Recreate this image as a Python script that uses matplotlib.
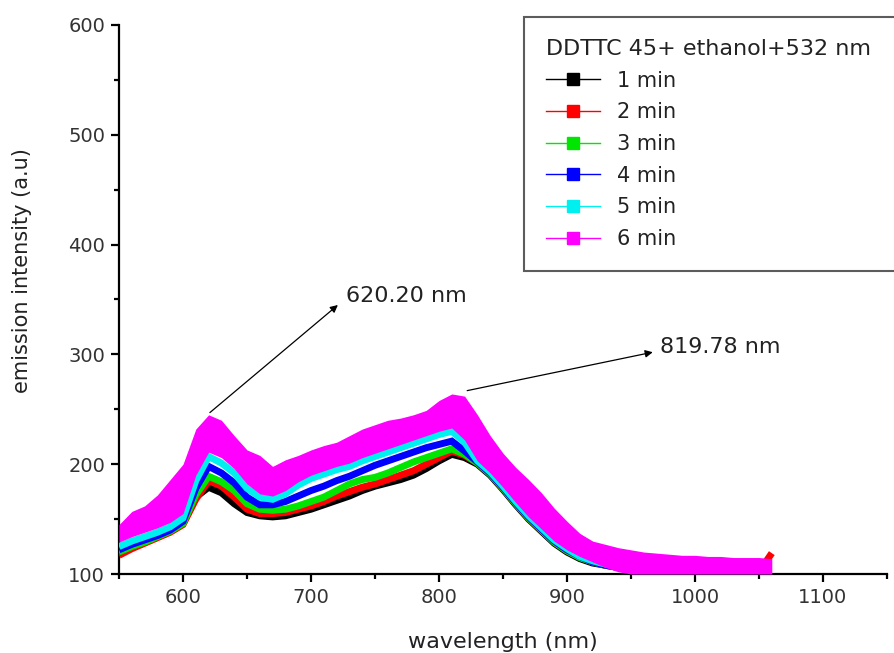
import numpy as np
import matplotlib
matplotlib.use('Agg')
import matplotlib.pyplot as plt
from matplotlib.ticker import MultipleLocator
from matplotlib.lines import Line2D

# wavelength grid (nm), one reading every 10 nm
wl = np.arange(550, 1061, 10)

# emission intensity (a.u), 1 to 6 min
i_1min = [119, 125, 131, 137, 142, 150, 170, 179, 174, 164, 156, 153,
          152, 153, 156, 159, 163, 167, 171, 176, 180, 183, 186, 190,
          196, 203, 209, 206, 200, 190, 177, 163, 150, 139, 128, 120,
          114, 110, 108, 106, 105, 104, 103, 102, 102, 102, 102, 102,
          102, 102, 102, 102]
i_2min = [117, 123, 128, 133, 138, 145, 168, 185, 180, 170, 159, 155,
          155, 156, 159, 162, 166, 171, 175, 179, 182, 186, 190, 194,
          200, 206, 212, 208, 201, 191, 178, 164, 151, 140, 129, 121,
          115, 111, 108, 106, 105, 104, 103, 102, 102, 102, 102, 102,
          102, 102, 102, 119]
i_3min = [120, 125, 129, 134, 139, 146, 172, 189, 184, 176, 164, 159,
          158, 159, 162, 166, 170, 176, 182, 186, 188, 192, 197, 202,
          206, 210, 214, 209, 201, 191, 178, 164, 151, 140, 129, 121,
          115, 111, 108, 106, 105, 104, 103, 103, 103, 103, 103, 103,
          103, 103, 103, 103]
i_4min = [122, 127, 131, 135, 140, 148, 178, 198, 192, 183, 170, 163,
          163, 166, 171, 176, 180, 185, 189, 194, 199, 203, 207, 211,
          215, 218, 221, 212, 202, 192, 179, 165, 152, 141, 130, 122,
          116, 111, 108, 106, 105, 104, 104, 104, 104, 104, 104, 104,
          104, 104, 104, 104]
i_5min = [125, 130, 134, 138, 143, 151, 185, 207, 201, 192, 178, 170,
          168, 173, 181, 187, 191, 195, 198, 203, 207, 211, 215, 219,
          223, 227, 230, 220, 203, 193, 180, 166, 153, 142, 131, 123,
          116, 112, 109, 107, 106, 105, 105, 105, 105, 105, 105, 105,
          105, 105, 105, 105]
# the 6 min trace is a wide noisy band: lower and upper edge
i_6min_lo = [129, 134, 138, 142, 147, 155, 190, 211, 206, 196, 182, 173,
             171, 176, 184, 190, 194, 198, 201, 206, 210, 214, 218, 222,
             226, 230, 233, 222, 203, 192, 179, 165, 152, 141, 130, 122,
             116, 111, 106, 102, 100, 100, 100, 100, 100, 100, 100, 100,
             100, 100, 100, 100]
i_6min_hi = [145, 157, 162, 172, 186, 200, 232, 245, 240, 226, 213, 208,
             198, 204, 208, 213, 217, 220, 226, 232, 236, 240, 242, 245,
             249, 258, 264, 262, 245, 226, 210, 197, 186, 174, 160, 148,
             137, 130, 127, 124, 122, 120, 119, 118, 117, 117, 116, 116,
             115, 115, 115, 114]

labels = ['1 min', '2 min', '3 min', '4 min', '5 min', '6 min']
colors = ['#000000', '#ff0000', '#00e600', '#0000ff', '#00f0f0', '#ff00ff']
series = [i_1min, i_2min, i_3min, i_4min, i_5min]

peaks = [(621, 247, '620.20 nm'), (822, 267, '819.78 nm')]
arrow_heads = [(721, 345), (967, 302)]
text_pos = [(727, 353), (973, 307)]

txt = '#222222'

fig = plt.figure(figsize=(8.95, 6.53), dpi=100)
ax = fig.add_axes([119 / 895, 79 / 653, 768 / 895, 549 / 653])

for k, y in enumerate(series):
    ax.plot(wl, y, color=colors[k], lw=5, solid_joinstyle='miter',
            solid_capstyle='butt', zorder=2 + k)
ax.fill_between(wl, i_6min_lo, i_6min_hi, color=colors[5], lw=0, zorder=8)

for (px, py, lab), (hx, hy), (tx, ty) in zip(peaks, arrow_heads, text_pos):
    ax.annotate('', xy=(hx, hy), xytext=(px, py),
                arrowprops=dict(arrowstyle='-|>', color='black', lw=0.9,
                                mutation_scale=11, shrinkA=0, shrinkB=0))
    ax.text(tx, ty, lab, fontsize=16, color=txt, va='center', ha='left')

ax.set_xlim(550, 1150)
ax.set_ylim(100, 600)
ax.xaxis.set_major_locator(MultipleLocator(100))
ax.xaxis.set_minor_locator(MultipleLocator(50))
ax.yaxis.set_major_locator(MultipleLocator(100))
ax.yaxis.set_minor_locator(MultipleLocator(50))

for side in ['top', 'right']:
    ax.spines[side].set_visible(False)
for side in ['left', 'bottom']:
    ax.spines[side].set_linewidth(1.6)
ax.tick_params(which='major', direction='out', length=6, width=1.6,
               labelsize=14, labelcolor='#333333', pad=4)
ax.tick_params(which='minor', direction='out', length=3.5, width=1.6)

ax.set_xlabel('wavelength (nm)', fontsize=16, color=txt)
ax.set_ylabel('emission intensity (a.u)', fontsize=15, color=txt)
ax.xaxis.set_label_coords(0.5, -0.106)
ax.yaxis.set_label_coords(-0.113, 0.552)

handles = [Line2D([], [], color=c, lw=1, marker='s', markersize=9,
                  markeredgecolor=c) for c in colors]
leg = ax.legend(handles, labels, title='DDTTC 45+ ethanol+532 nm',
                title_fontsize=16, fontsize=15, loc='upper left',
                bbox_to_anchor=(524 / 895, 0, 0.5, 1 - 17 / 653),
                bbox_transform=fig.transFigure, mode='expand',
                alignment='left', frameon=True, fancybox=False,
                edgecolor='#333333', borderpad=1.05, labelspacing=0.56,
                handlelength=2.6, handletextpad=0.8, borderaxespad=0)
leg.get_frame().set_linewidth(1.5)
leg.get_title().set_color(txt)
for t in leg.get_texts():
    t.set_color(txt)
leg.set_zorder(20)

fig.savefig('out.png', dpi=100)
